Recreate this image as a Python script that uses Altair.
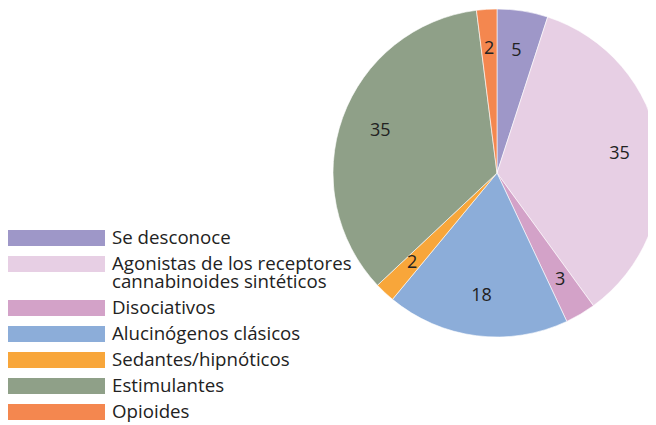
import altair as alt
import pandas as pd

categories = [
    "Se desconoce",
    "Agonistas de los receptores cannabinoides sintéticos",
    "Disociativos",
    "Alucinógenos clásicos",
    "Sedantes/hipnóticos",
    "Estimulantes",
    "Opioides",
]
values = [5, 35, 3, 18, 2, 35, 2]
colors = ["#9e97c8", "#e7cfe4", "#d3a2c8", "#8cadd9", "#f8a63a", "#8fa088", "#f4874f"]

df = pd.DataFrame({"categoria": categories, "valor": values, "orden": list(range(len(categories)))})

FONT = "Open Sans"

label_expr = (
    "indexof(datum.label, 'Agonistas') == 0 ? "
    "['Agonistas de los receptores', 'cannabinoides sintéticos'] : datum.label"
)

base = alt.Chart(df).encode(
    theta=alt.Theta("valor:Q", stack=True),
    order=alt.Order("orden:Q"),
)

pie = base.mark_arc(radius=164, stroke="white", strokeWidth=0.6).encode(
    x=alt.value(489),
    y=alt.value(165),
    color=alt.Color(
        "categoria:N",
        scale=alt.Scale(domain=categories, range=colors),
        sort=categories,
        legend=alt.Legend(
            title=None,
            orient="none",
            legendX=0,
            legendY=222,
            symbolType="M-1,-0.165L1,-0.165L1,0.165L-1,0.165Z",
            symbolSize=9409,
            symbolStrokeWidth=0,
            symbolOpacity=1,
            clipHeight=16,
            labelExpr=label_expr,
            labelFont=FONT,
            labelFontSize=18.7,
            labelColor="#222222",
            labelLimit=0,
            labelOffset=7,
            rowPadding=7,
            padding=0,
        ),
    ),
)

labels = base.mark_text(radius=124, font=FONT, fontSize=18, color="#222222").encode(
    x=alt.value(489),
    y=alt.value(165),
    text=alt.Text("valor:Q"),
)

chart = (
    alt.layer(pie, labels)
    .properties(
        width=640,
        height=417,
        padding=0,
        autosize=alt.AutoSizeParams(type="none"),
    )
    .configure(
        view={"strokeWidth": 0, "stroke": "transparent"},
        style={"guide-label": {"lineHeight": 18}},
    )
)

chart.save("out.html", embed_options={"renderer": "svg", "actions": False})
